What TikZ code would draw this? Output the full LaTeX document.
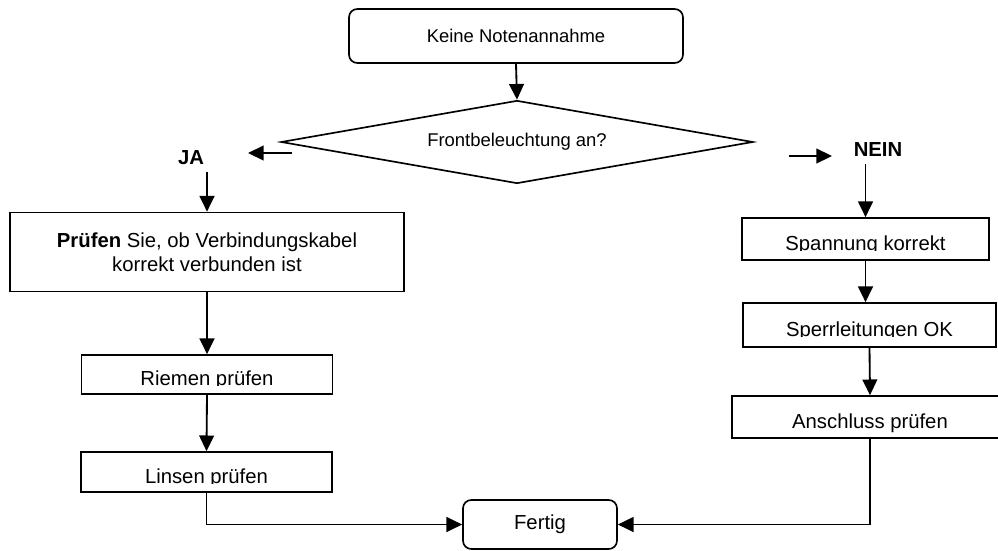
\documentclass[tikz,border=0pt]{standalone}
\usepackage{fontspec}
\setmainfont{Liberation Sans}
\usepackage{trimclip}
\usetikzlibrary {shapes.geometric}
\usetikzlibrary {arrows.meta}

\newcommand{\px}{0.542pt}
% Text whose descenders are cut off at the baseline
\newcommand{\trimdesc}[1]{\clipbox{0pt {\depth} 0pt 0pt}{#1}}

\begin{document}
\begin{tikzpicture}[x=\px, y={(0pt,-0.542pt)},
        stepbox/.style = {draw, line width=0.9pt, font=\fontsize{11}{13}\selectfont, inner sep=0pt, text height=12pt, text depth=0pt},
        roundbox/.style = {draw, line width=0.9pt, rounded corners=4.5pt, inner sep=0pt},
        answer/.style = {font=\fontsize{11}{13}\selectfont\bfseries},
        arr/.style = {line width=1pt, arrows = -{Triangle[length=8.5pt, width=8pt]}}]
        %   \draw [help lines] (0,0) grid (998,550);
        \useasboundingbox (0,0) rectangle (998,550);

        \node [roundbox, font=\fontsize{10}{12}\selectfont, minimum width=334*\px, minimum height=54*\px] (start) at (516,36) {Keine Notenannahme};

        \node [diamond, draw, line width=0.9pt, aspect=5.7, inner sep=0pt, font=\fontsize{10}{12}\selectfont, minimum width=472*\px, minimum height=83*\px] (front) at (517,142) {Frontbeleuchtung an?};

        \node [answer] (ja) at (191,158) {JA};
        \node [answer] (nein) at (878,150) {NEIN};
        \coordinate (jaFrom) at (292,153);
        \coordinate (jaTo) at (248,153);
        \coordinate (neinFrom) at (789,156);
        \coordinate (neinTo) at (832,156);

        % linke Seite
        \node [draw, line width=0.9pt, font=\fontsize{11}{13}\selectfont, align=center, inner sep=0pt, minimum width=394*\px, minimum height=79*\px] (kabel) at (207,252)
        {\textbf{Prüfen} Sie, ob Verbindungskabel\\korrekt verbunden ist};
        \node [stepbox, minimum width=251*\px, minimum height=39*\px] (riemen) at (207,374.5) {\trimdesc{Riemen prüfen}};
        \node [stepbox, minimum width=251*\px, minimum height=40*\px] (linsen) at (206.5,472) {\trimdesc{Linsen prüfen}};

        % rechte Seite
        \node [stepbox, minimum width=247*\px, minimum height=42*\px] (spannung) at (865.5,239) {\trimdesc{Spannung korrekt}};
        \node [stepbox, minimum width=253*\px, minimum height=44*\px] (sperr) at (869.5,325) {\trimdesc{Sperrleitungen OK}};
        \node [stepbox, minimum width=276*\px, minimum height=42*\px] (anschluss) at (870,417) {Anschluss prüfen};

        \node [roundbox, font=\fontsize{11}{13}\selectfont, minimum width=154*\px, minimum height=49*\px] (fertig) at (540,524.5) {Fertig};

        \draw [arr] (start.south) -- (front.north);
        \draw [arr] (jaFrom) -- (jaTo);
        \draw [arr] (neinFrom) -- (neinTo);
        \draw [arr] (ja.south -| kabel.north) -- (kabel.north);
        \draw [arr] (nein.south -| spannung.north) -- (spannung.north);
        \draw [arr] (kabel.south -| riemen.north) -- (riemen.north);
        \draw [arr] (riemen.south) -- (linsen.north);
        \draw [arr] (spannung.south) -- (sperr.north -| spannung.south);
        \draw [arr] (sperr.south) -- (anschluss.north);
        \draw [arr] (linsen.south) |- (fertig.west);
        \draw [arr] (anschluss.south) |- (fertig.east);
\end{tikzpicture}
\end{document}
